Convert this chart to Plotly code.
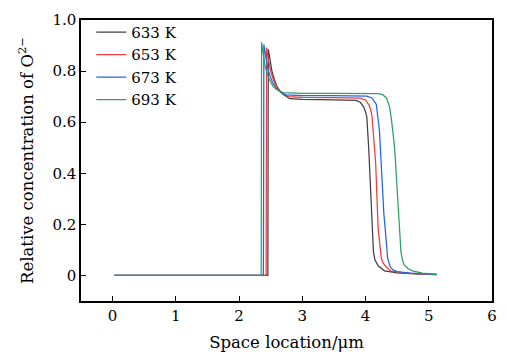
import plotly.graph_objects as go

# ---- data ----
series_names = ["633 K", "653 K", "673 K", "693 K"]
series_colors = ["#404040", "#ee3b3b", "#2266e6", "#2ca062"]

x_633 = [0.03, 2.455, 2.462, 2.49, 2.52, 2.56, 2.60, 2.65, 2.70, 2.80, 3.00, 3.50, 3.85, 3.92, 3.97, 4.00, 4.02, 4.05, 4.08, 4.105, 4.125, 4.15, 4.20, 4.30, 4.50, 4.80, 5.13]
y_633 = [0.0, 0.0, 0.885, 0.835, 0.80, 0.765, 0.74, 0.72, 0.708, 0.692, 0.689, 0.687, 0.685, 0.677, 0.66, 0.64, 0.62, 0.50, 0.31, 0.17, 0.092, 0.06, 0.038, 0.018, 0.010, 0.006, 0.003]

x_653 = [0.03, 2.428, 2.435, 2.46, 2.49, 2.53, 2.57, 2.62, 2.67, 2.78, 3.00, 3.50, 3.92, 4.00, 4.06, 4.10, 4.13, 4.16, 4.20, 4.225, 4.25, 4.28, 4.32, 4.40, 4.60, 4.85, 5.13]
y_653 = [0.0, 0.0, 0.892, 0.845, 0.81, 0.775, 0.75, 0.73, 0.716, 0.700, 0.697, 0.696, 0.694, 0.687, 0.665, 0.63, 0.55, 0.44, 0.18, 0.11, 0.067, 0.048, 0.035, 0.018, 0.010, 0.006, 0.003]

x_673 = [0.03, 2.385, 2.392, 2.42, 2.45, 2.49, 2.53, 2.58, 2.63, 2.74, 3.00, 3.50, 4.02, 4.10, 4.17, 4.22, 4.26, 4.29, 4.32, 4.35, 4.39, 4.43, 4.50, 4.70, 4.95, 5.13]
y_673 = [0.0, 0.0, 0.904, 0.855, 0.815, 0.78, 0.755, 0.735, 0.722, 0.707, 0.704, 0.704, 0.702, 0.695, 0.67, 0.567, 0.374, 0.24, 0.157, 0.067, 0.035, 0.022, 0.015, 0.009, 0.006, 0.004]

x_693 = [0.03, 2.350, 2.356, 2.38, 2.41, 2.45, 2.49, 2.54, 2.59, 2.70, 3.00, 3.50, 4.20, 4.27, 4.33, 4.38, 4.41, 4.46, 4.51, 4.54, 4.56, 4.585, 4.61, 4.67, 4.74, 4.90, 5.13]
y_693 = [0.0, 0.0, 0.913, 0.865, 0.82, 0.785, 0.76, 0.74, 0.728, 0.716, 0.713, 0.713, 0.712, 0.708, 0.695, 0.66, 0.61, 0.50, 0.31, 0.17, 0.092, 0.06, 0.041, 0.027, 0.018, 0.009, 0.004]

xs = [x_633, x_653, x_673, x_693]
ys = [y_633, y_653, y_673, y_693]

x_ticks = [0, 1, 2, 3, 4, 5, 6]
y_ticks = [0, 0.2, 0.4, 0.6, 0.8, 1.0]
y_ticklabels = ["0", "0.2", "0.4", "0.6", "0.8", "1.0"]

FONT = "DejaVu Serif"
FS = 15
TFS = 16.5

fig = go.Figure()
for name, color, x, y in zip(series_names, series_colors, xs, ys):
    fig.add_trace(go.Scatter(x=x, y=y, mode="lines", name=name,
                             line=dict(color=color, width=1.25)))

fig.update_layout(
    width=508, height=360,
    margin=dict(l=81, r=11, t=14, b=59),
    paper_bgcolor="white", plot_bgcolor="white",
    font=dict(family=FONT, size=FS, color="black"),
    showlegend=True,
    legend=dict(x=0.025, y=1.015, xanchor="left", yanchor="top",
                bgcolor="rgba(0,0,0,0)", font=dict(family=FONT, size=15),
                tracegroupgap=0, itemwidth=30),
    xaxis=dict(range=[-0.5, 6], tickvals=x_ticks, ticks="inside", ticklen=5,
               tickwidth=1, tickcolor="black", showline=True, linecolor="black",
               linewidth=1.5, mirror=True, showgrid=False, zeroline=False,
               tickfont=dict(size=FS),
               title=dict(text="Space location/μm", standoff=13, font=dict(size=TFS))),
    yaxis=dict(range=[-0.1, 1.0], tickvals=y_ticks, ticktext=y_ticklabels,
               ticks="inside", ticklen=5, tickwidth=1, tickcolor="black",
               showline=True, linecolor="black", linewidth=1.5, mirror=True,
               showgrid=False, zeroline=False, tickfont=dict(size=FS),
               title=dict(text="Relative concentration of O<sup>2−</sup>", standoff=15,
                          font=dict(size=TFS))),
)

fig.write_html("out.html")
